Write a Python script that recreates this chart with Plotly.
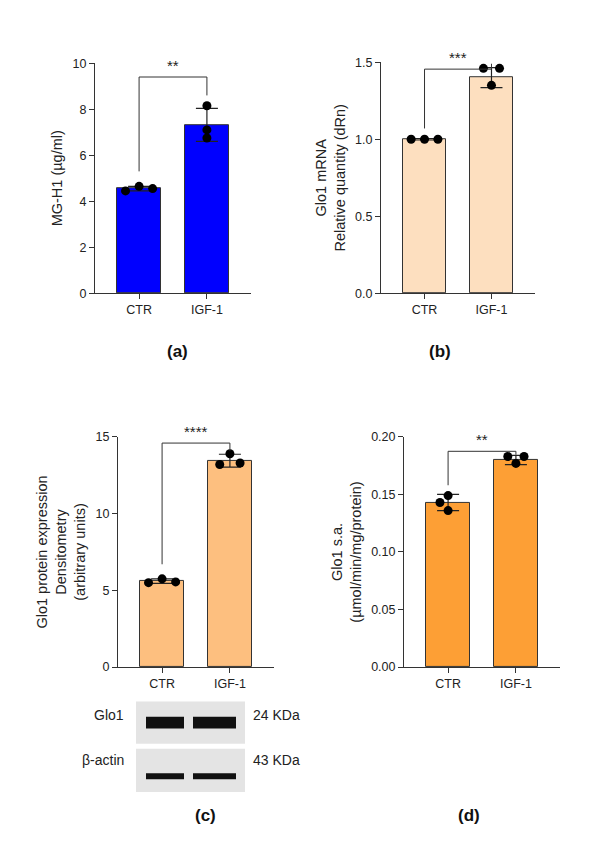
import plotly.graph_objects as go

W, H = 595, 849
cats = ["CTR", "IGF-1"]

a_mean = [4.55, 7.32]; a_sd = [0.1, 0.72]
a_pts = [[4.45, 4.65, 4.55], [8.15, 7.1, 6.75]]
b_mean = [1.0, 1.40]; b_sd = [0.005, 0.065]
b_pts = [[1.0, 1.0, 1.0], [1.46, 1.46, 1.35]]
c_mean = [5.6, 13.45]; c_sd = [0.15, 0.42]
c_pts = [[5.5, 5.75, 5.55], [13.9, 13.2, 13.3]]
d_mean = [0.143, 0.180]; d_sd = [0.007, 0.004]
d_pts = [[0.149, 0.143, 0.136], [0.183, 0.183, 0.177]]

# horizontal jitter (style) per panel: [CTR offsets], [IGF offsets]
jit = [
    ([-0.2, 0.0, 0.2], [0.0, 0.0, 0.0]),
    ([-0.2, 0.0, 0.2], [-0.12, 0.12, 0.0]),
    ([-0.2, 0.0, 0.2], [0.0, -0.15, 0.15]),
    ([-0.0, -0.12, 0.0], [-0.12, 0.12, 0.0]),
]
jit[3] = ([0.0, -0.12, 0.0], [-0.12, 0.12, 0.0])

FONT = "Liberation Sans, Arial, sans-serif"
fig = go.Figure()

panels = [
    (a_mean, a_sd, a_pts, "#0000FF", (87, 243), (49, 283), [0, 10], 2, "MG-H1 (µg/ml)", "**", 9.4, (5.3, 8.6), ""),
    (b_mean, b_sd, b_pts, "#FDDFBF", (373, 527), (48, 283), [0, 1.5], 0.5, "Glo1 mRNA<br>Relative quantity (dRn)", "***", 1.455, (1.07, 1.49), ".1f"),
    (c_mean, c_sd, c_pts, "#FDBF7F", (110, 266), (429, 663), [0, 15], 5, "Glo1 protein expression<br>Densitometry<br>(arbitrary units)", "****", 14.6, (6.7, 14.1), ""),
    (d_mean, d_sd, d_pts, "#FD9F35", (396, 552), (429, 663), [0, 0.2], 0.05, "Glo1 s.a.<br>(µmol/min/mg/protein)", "**", 0.1875, (0.158, 0.1845), ".2f"),
]
shapes = []
annos = []
for i, (mean, sd, pts, col, xp, yp, yr, dt, title, stars, br, legs, fmt) in enumerate(panels):
    n = "" if i == 0 else str(i + 1)
    xa, ya = "x" + n, "y" + n
    fig.add_trace(go.Bar(x=[0, 1], y=mean, width=0.65, marker=dict(color=col, line=dict(color="#333", width=1)),
                         error_y=dict(type="data", array=sd, color="#222", thickness=1.2, width=11),
                         xaxis=xa, yaxis=ya, showlegend=False))
    for k in range(2):
        fig.add_trace(go.Scatter(x=[k + o for o in jit[i][k]], y=pts[k],
                                 mode="markers", marker=dict(color="black", size=9),
                                 xaxis=xa, yaxis=ya, showlegend=False))
    fmtv = dict(tickformat=fmt) if fmt else {}
    fig.update_layout(**{
        "xaxis" + n: dict(domain=[xp[0] / W, xp[1] / W], range=[-0.65, 1.65], tickvals=[0, 1], ticktext=cats,
                          showline=True, linecolor="#333", ticks="outside", ticklen=5, tickcolor="#333",
                          showgrid=False, zeroline=False, anchor=ya, fixedrange=True,
                          tickfont=dict(size=12.5, color="#222")),
        "yaxis" + n: dict(domain=[1 - yp[1] / H, 1 - yp[0] / H], range=yr, dtick=dt, showline=True, linecolor="#333",
                          ticks="outside", ticklen=5, tickcolor="#333", showgrid=False, zeroline=False, anchor=xa,
                          title=dict(text=title, font=dict(size=14.5, color="#222"), standoff=6),
                          tickfont=dict(size=12.5, color="#222"), **fmtv),
    })
    shapes.append(dict(type="path", xref=xa, yref=ya,
                       path=f"M 0 {legs[0]} L 0 {br} L 1 {br} L 1 {legs[1]}",
                       line=dict(color="#333", width=1)))
    annos.append(dict(x=0.5, y=br, xref=xa, yref=ya, text=stars, showarrow=False, yanchor="bottom",
                      yshift=1, font=dict(size=15, color="#222")))

for txt, x, y in [("(a)", 157, 342), ("(b)", 445, 342), ("(c)", 185, 826), ("(d)", 474, 826)]:
    annos.append(dict(x=x / W, y=1 - y / H, xref="paper", yref="paper", text=f"<b>{txt}</b>", showarrow=False,
                      font=dict(size=17, color="#111")))

for (y0, y1, bh, cyoff) in [(698, 741, 12, 0), (746, 790, 6, 6)]:
    shapes.append(dict(type="rect", xref="paper", yref="paper", x0=128 / W, x1=237 / W, y0=1 - y1 / H, y1=1 - y0 / H,
                       fillcolor="#E4E4E4", line=dict(width=0)))
    cy = (y0 + y1) / 2 + cyoff
    for bx0, bx1 in [(138, 176), (185, 228)]:
        shapes.append(dict(type="rect", xref="paper", yref="paper", x0=bx0 / W, x1=bx1 / W,
                           y0=1 - (cy + bh / 2) / H, y1=1 - (cy - bh / 2) / H, fillcolor="#111", line=dict(width=0)))
for txt, x, y, anc in [("Glo1", 118, 722, "right"), ("β-actin", 118, 768, "right"),
                       ("24 KDa", 243, 722, "left"), ("43 KDa", 243, 768, "left")]:
    annos.append(dict(x=x / W, y=1 - y / H, xref="paper", yref="paper", text=txt, showarrow=False, xanchor=anc,
                      font=dict(size=14, color="#222")))

fig.update_layout(width=W, height=H, margin=dict(l=0, r=0, t=0, b=0), plot_bgcolor="white", paper_bgcolor="white",
                  font=dict(family=FONT), shapes=shapes, annotations=annos, bargap=0)
fig.write_html("out.html")
